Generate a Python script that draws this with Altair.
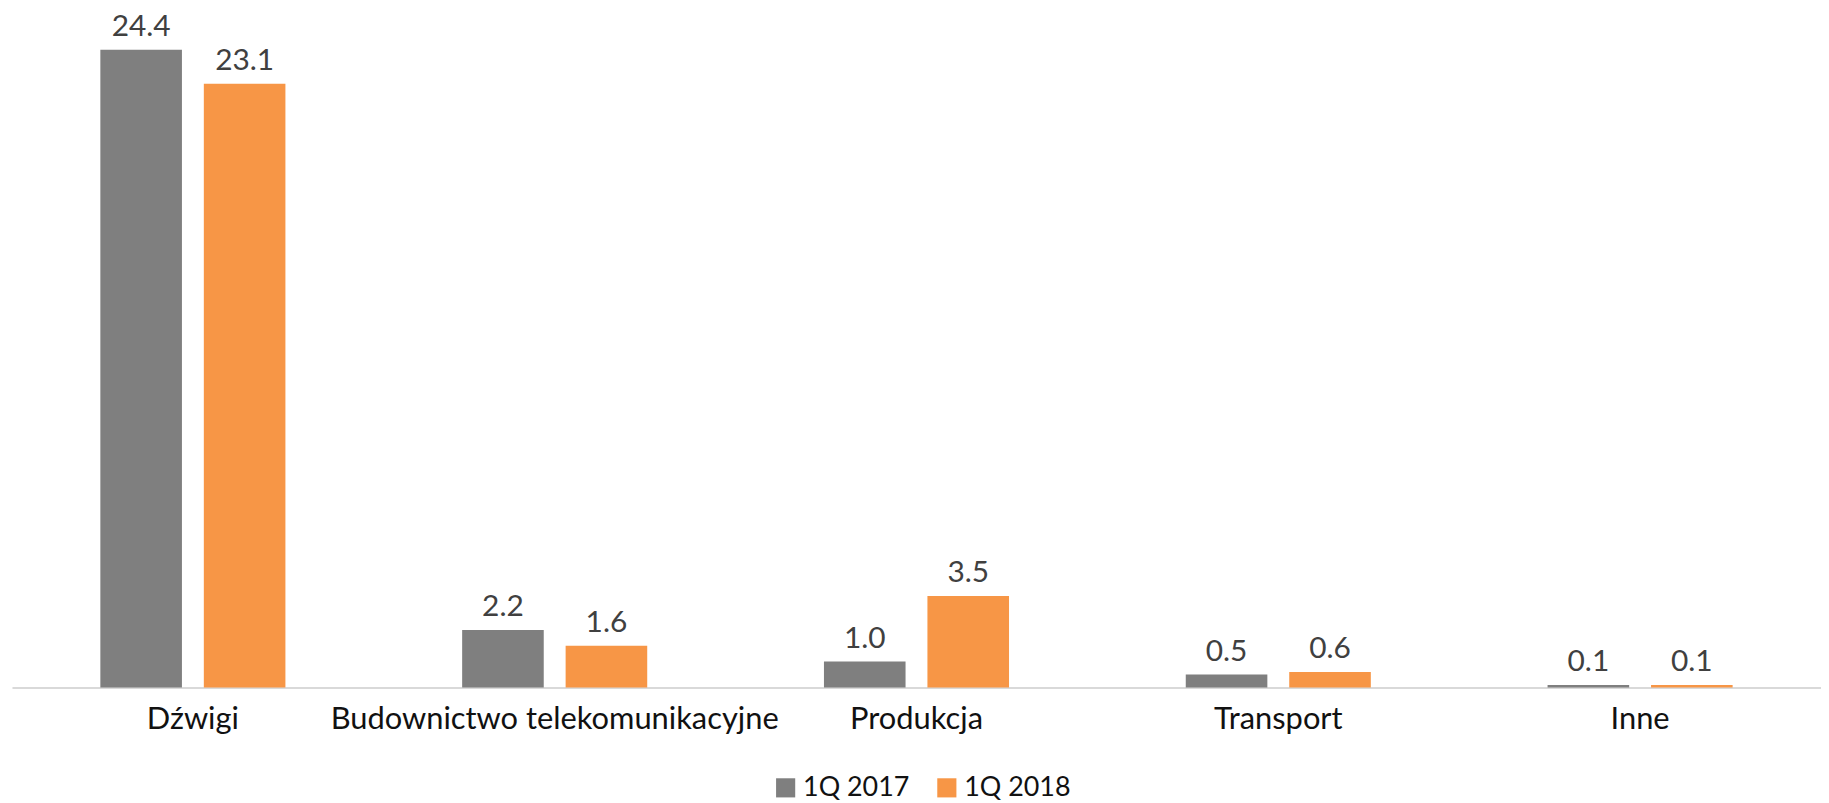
import altair as alt
import pandas as pd

categories = ["Dźwigi", "Budownictwo telekomunikacyjne", "Produkcja", "Transport", "Inne"]
series = ["1Q 2017", "1Q 2018"]
values_2017 = [24.4, 2.2, 1.0, 0.5, 0.1]
values_2018 = [23.1, 1.6, 3.5, 0.6, 0.1]
colors = ["#7f7f7f", "#f79646"]

rows = []
for c, a, b in zip(categories, values_2017, values_2018):
    rows.append({"category": c, "series": series[0], "value": a})
    rows.append({"category": c, "series": series[1], "value": b})
df = pd.DataFrame(rows)

FONT = "Lato"

x = alt.X("category:N", sort=categories, title=None,
          scale=alt.Scale(paddingInner=0, paddingOuter=0),
          axis=alt.Axis(labelAngle=0, labelFontSize=31, labelColor="#111111",
                        labelFont=FONT, labelPadding=17, ticks=False,
                        domainColor="#d9d9d9", domainWidth=2, labelLimit=700))
xo = alt.XOffset("series:N", sort=series,
                 scale=alt.Scale(paddingInner=0.2115, paddingOuter=0.854))
y = alt.Y("value:Q", scale=alt.Scale(domain=[0, 25.5]), axis=None)
color = alt.Color("series:N", sort=series,
                  scale=alt.Scale(domain=series, range=colors),
                  legend=alt.Legend(title=None, orient="none", direction="horizontal",
                                    legendX=764, legendY=757,
                                    symbolType="square", symbolSize=370,
                                    symbolStrokeWidth=0, labelFontSize=27,
                                    labelFont=FONT, labelColor="#111111",
                                    columnPadding=24))

base = alt.Chart(df).encode(x=x, xOffset=xo, y=y)
bars = base.mark_bar().encode(color=color)
labels = base.mark_text(baseline="alphabetic", dy=-14, fontSize=30, font=FONT,
                        color="#404040").encode(text=alt.Text("value:Q", format=".1f"))

chart = (bars + labels).properties(
    width=1818, height=670,
    autosize=alt.AutoSizeParams(type="none"),
    padding={"left": 4, "top": 11, "right": 0, "bottom": 112},
).configure_view(stroke=None)

chart.save("out.html", embed_options={"renderer": "svg", "actions": False})
